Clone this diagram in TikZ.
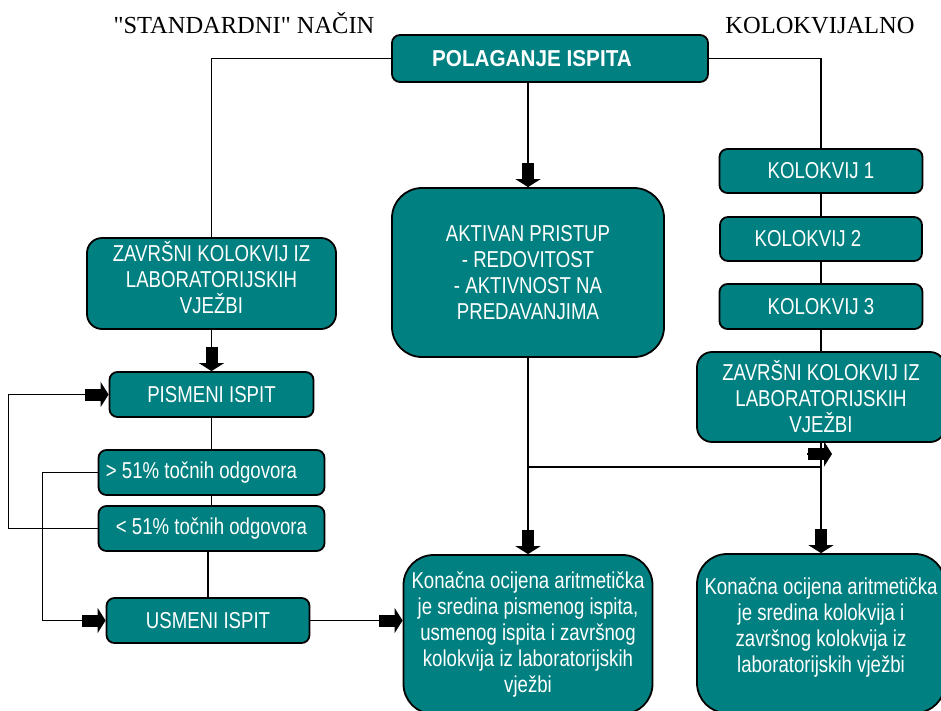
\documentclass[tikz,border=0pt]{standalone}
\usepackage{fontspec}
\setmainfont{Liberation Serif}
\newfontfamily\boxfont{Liberation Sans}[FakeStretch=0.81]
\newfontfamily\headfont{Liberation Sans}[FakeStretch=0.9]
\usetikzlibrary{arrows.meta, positioning}

\begin{document}
\begin{tikzpicture}[
        x=1pt, y=-1pt,
        node distance=24pt,
        box/.style={rectangle, rounded corners=8pt, draw=black, line width=1.8pt, fill=teal, text=white, align=center, inner sep=2pt, font=\boxfont\fontsize{23}{26}\selectfont},
        link/.style={line width=1.5pt}
    ]

    \tikzset{
    arrow/.style={link, -{Rectangle[length=16pt,width=12pt,sep=0pt] Triangle[length=8pt,width=25pt,sep=0pt]}},
    heading/.style={anchor=base, font=\fontsize{24.5}{28}\selectfont}
}

    \useasboundingbox (0,0) rectangle (941,710);

    \node[heading] (std) at (244,33) {\textquotedbl STANDARDNI\textquotedbl{} NAČIN};
    \node[heading] (kolh) at (820,33) {KOLOKVIJALNO};

    \node[box, minimum width=316pt, minimum height=47pt, font=\headfont\bfseries\fontsize{23}{26}\selectfont] (pol) at (550,58.5) {POLAGANJE ISPITA\hspace*{36pt}};

    % standardni nacin
    \node[box, rounded corners=15pt, minimum width=249pt, minimum height=91pt] (lzav) at (211.5,283.5) {\mbox{}\\[-17pt]ZAVRŠNI KOLOKVIJ IZ\\LABORATORIJSKIH\\VJEŽBI};
    \node[box, minimum width=204pt, minimum height=45pt] (pism) [below=41.2pt of lzav] {PISMENI ISPIT};
    \node[box, minimum width=226pt, minimum height=45pt] (gt) [below=31.2pt of pism] {> 51\% točnih odgovora\hspace*{20pt}};
    \node[box, minimum width=226pt, minimum height=45pt] (lt) [below=9.2pt of gt] {< 51\% točnih odgovora};
    \node[box, minimum width=203pt, minimum height=45pt] (usm) [below=45.2pt of lt, xshift=-3.5pt] {USMENI ISPIT};

    % aktivan pristup
    \node[box, rounded corners=30pt, minimum width=272pt, minimum height=169pt] (akt) at (528,272.5) {AKTIVAN PRISTUP\\- REDOVITOST\\- AKTIVNOST NA\\PREDAVANJIMA};
    \node[box, rounded corners=30pt, minimum width=249pt, minimum height=159pt] (fin1) at (528,634.5) {Konačna ocijena aritmetička\\je sredina pismenog ispita,\\usmenog ispita i završnog\\kolokvija iz laboratorijskih\\vježbi};

    % kolokvijalno
    \node[box, minimum width=203pt, minimum height=44pt] (kol1) at (821,171) {KOLOKVIJ 1};
    \node[box, minimum width=202pt, minimum height=44pt] (kol2) [below=22.2pt of kol1] {KOLOKVIJ 2\hspace*{26pt}};
    \node[box, minimum width=203pt, minimum height=45pt] (kol3) [below=21.2pt of kol2] {KOLOKVIJ 3};
    \node[box, rounded corners=15pt, minimum width=248pt, minimum height=90pt] (rzav) [below=21.2pt of kol3] {ZAVRŠNI KOLOKVIJ IZ\\LABORATORIJSKIH\\VJEŽBI};
    \node[box, rounded corners=30pt, minimum width=248pt, minimum height=159pt] (fin2) [below=110.2pt of rzav] {Konačna ocijena aritmetička\\je sredina kolokvija i\\završnog kolokvija iz\\laboratorijskih vježbi\\[-10pt]\mbox{}};

    \coordinate (split) at (528,467);
    \coordinate (stubA) at (807,454);
    \coordinate (stubB) at (832,454);

    \draw[link] (pol.west) -| (lzav.north);
    \draw[link] (pol.east) -| (kol1.north);
    \draw[arrow] (pol.south -| akt.north) -- (akt.north);

    \draw[arrow] (lzav) -- (pism);
    \draw[link] (pism) -- (gt);
    \draw[link] (gt) -- (lt);
    \draw[link] (usm.north |- lt.south) -- (usm.north);
    \draw[arrow] (lt.west) -- ++(-89,0) |- (pism.west);
    \draw[arrow] (gt.west) -- ++(-55,0) |- (usm.west);
    \draw[arrow] (usm.east) -- (usm.east -| fin1.west);

    \draw[arrow] (akt) -- (fin1);
    \draw[link] (split) -- (split -| fin2.north);
    \draw[arrow] (stubA) -- (stubB);

    \draw[link] (kol1) -- (kol2);
    \draw[link] (kol2) -- (kol3);
    \draw[link] (kol3) -- (rzav);
    \draw[arrow] (rzav) -- (fin2);
    \end{tikzpicture}
\end{document}
